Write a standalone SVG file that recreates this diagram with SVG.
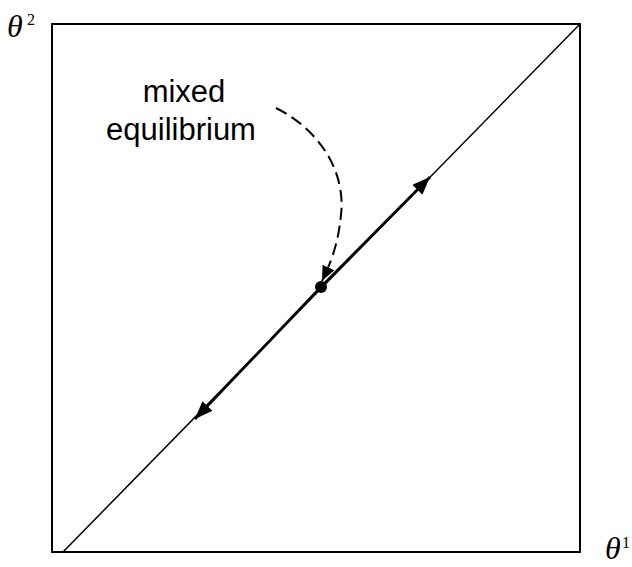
<svg xmlns="http://www.w3.org/2000/svg" width="632" height="567" viewBox="0 0 632 567">
<style>
.frame{fill:none;stroke:#000;stroke-width:2}
.diag{fill:none;stroke:#000;stroke-width:1.5}
.thick{fill:none;stroke:#000;stroke-width:2.8}
.dash{fill:none;stroke:#000;stroke-width:2;stroke-dasharray:12 6}
.lbl{font-family:"Liberation Sans",Arial,sans-serif;font-size:31px;fill:#000}
.th{font-family:"Liberation Serif","Times New Roman",serif;font-style:italic;font-size:32px;fill:#000}
.sup{font-family:"Liberation Serif","Times New Roman",serif;font-size:16px;fill:#000}
</style>
<defs>
<marker id="ah" markerUnits="userSpaceOnUse" markerWidth="20" markerHeight="16" refX="18" refY="7" orient="auto">
<path d="M0,0 L18,7 L0,14 Z" fill="#000"/>
</marker>
<marker id="ahd" markerUnits="userSpaceOnUse" markerWidth="18" markerHeight="16" refX="15" refY="6.5" orient="auto">
<path d="M0,0 L15,6.5 L0,13 Z" fill="#000"/>
</marker>
</defs>
<g id="frame">
<rect class="frame" x="52" y="24" width="528" height="528"/>
</g>
<g id="axis-labels">
<text class="th" x="7" y="37">θ</text>
<text class="sup" x="27" y="25">2</text>
<text class="th" x="605" y="559">θ</text>
<text class="sup" x="622" y="548">1</text>
</g>
<g id="connectors">
<line class="diag" x1="63" y1="552" x2="580" y2="24"/>
<line class="thick" x1="321" y1="287" x2="430" y2="177" marker-end="url(#ah)"/>
<line class="thick" x1="321" y1="287" x2="195" y2="419" marker-end="url(#ah)"/>
<path class="dash" d="M276,108 C320,130 346,172 341,215 C338,245 331,262 322,281" marker-end="url(#ahd)"/>
</g>
<g id="equilibrium">
<circle cx="321" cy="287" r="6" fill="#000"/>
</g>
<g id="label">
<text class="lbl" x="184" y="102" text-anchor="middle">mixed</text>
<text class="lbl" x="181" y="140" text-anchor="middle">equilibrium</text>
</g>
</svg>
